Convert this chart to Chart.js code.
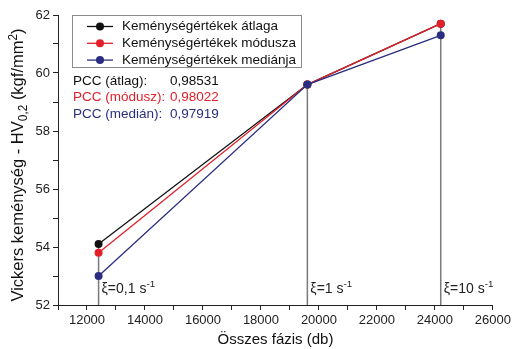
<!DOCTYPE html>
<html>
<head>
<meta charset="utf-8">
<script src="https://cdn.jsdelivr.net/npm/chart.js@4"></script>
<style>
html, body { margin:0; padding:0; background:#fff; }
#wrap { width:514px; height:349px; }
</style>
</head>
<body>
<div id="wrap"><canvas id="hvChart" width="514" height="349"></canvas></div>
<script>
// data
let phases = [12400, 19600, 24200]
let hvMean = [54.1, 59.6, 61.7]
let hvMode = [53.8, 59.6, 61.7]
let hvMedian = [53.0, 59.6, 61.3]
let seriesNames = ['Keménységértékek átlaga', 'Keménységértékek módusza', 'Keménységértékek mediánja']
let pccNames = ['PCC (átlag):', 'PCC (módusz):', 'PCC (medián):']
let pccValues = ['0,98531', '0,98022', '0,97919']
let rateLabels = ['0,1', '1', '10']

let colors = ['#111111', '#e3202a', '#2b2e80']
let font = '"Liberation Sans", Arial, sans-serif'

function toPoints(ys){
    return phases.map((x, i) => ({x: x, y: ys[i]}))
}

// text with sub/superscripts: parts = [[text, shift, scale]]
function richWidth(ctx, parts, size){
    let w = 0
    parts.forEach(p => {
        ctx.font = (size * (p[2] || 1)) + 'px ' + font
        w += ctx.measureText(p[0]).width
    })
    return w
}

function richText(ctx, parts, x, y, size){
    let cx = x
    parts.forEach(p => {
        ctx.font = (size * (p[2] || 1)) + 'px ' + font
        ctx.fillText(p[0], cx, y + (p[1] || 0))
        cx += ctx.measureText(p[0]).width
    })
}

let extras = {
    id: 'extras',
    beforeDatasetsDraw(chart){
        let ctx = chart.ctx
        let xs = chart.scales.x
        let ys = chart.scales.y
        ctx.save()
        // drop lines from the highest point down to the axis
        ctx.strokeStyle = '#7a7a7a'
        ctx.lineWidth = 1.5
        phases.forEach((p, i) => {
            let top = Math.max(hvMean[i], hvMode[i], hvMedian[i])
            let px = xs.getPixelForValue(p)
            ctx.beginPath()
            ctx.moveTo(px, ys.getPixelForValue(top))
            ctx.lineTo(px, ys.bottom)
            ctx.stroke()
        })
        // rate labels
        ctx.fillStyle = '#222'
        ctx.textBaseline = 'alphabetic'
        phases.forEach((p, i) => {
            let px = xs.getPixelForValue(p) + 3
            richText(ctx, [['ξ=' + rateLabels[i] + ' s', 0, 1], ['-1', -6, 0.7]], px, ys.bottom - 12, 14)
        })
        ctx.restore()
    },
    afterDraw(chart){
        let ctx = chart.ctx
        let area = chart.chartArea
        ctx.save()
        // legend box
        ctx.strokeStyle = '#8a8a8a'
        ctx.lineWidth = 1
        ctx.strokeRect(72.5, 15.5, 229, 52)
        ctx.textBaseline = 'middle'
        ctx.font = '13.5px ' + font
        seriesNames.forEach((name, i) => {
            let ly = 26.5 + i * 16.8
            ctx.strokeStyle = colors[i]
            ctx.lineWidth = 1.3
            ctx.beginPath()
            ctx.moveTo(87, ly)
            ctx.lineTo(113, ly)
            ctx.stroke()
            ctx.fillStyle = colors[i]
            ctx.beginPath()
            ctx.arc(100, ly, 4, 0, Math.PI * 2)
            ctx.fill()
            ctx.fillStyle = '#111'
            ctx.fillText(name, 122, ly)
        })
        // correlation block
        pccNames.forEach((name, i) => {
            let ly = 81 + i * 16.5
            ctx.fillStyle = colors[i]
            ctx.fillText(name, 73, ly)
            ctx.fillText(pccValues[i], 170, ly)
        })
        // axis titles
        ctx.fillStyle = '#111'
        ctx.textBaseline = 'alphabetic'
        ctx.font = '15px ' + font
        let xt = 'Összes fázis (db)'
        let xw = ctx.measureText(xt).width
        ctx.fillText(xt, (area.left + area.right) / 2 - xw / 2, 344)
        let yParts = [['Vickers keménység - HV', 0, 1], ['0,2', 4, 0.72], [' (kgf/mm', 0, 1], ['2', -6, 0.72], [')', 0, 1]]
        let yw = richWidth(ctx, yParts, 16.5)
        ctx.translate(23, 165)
        ctx.rotate(-Math.PI / 2)
        richText(ctx, yParts, -yw / 2, 0, 16.5)
        ctx.restore()
    }
}

let hvChart =
new Chart(
    document.getElementById('hvChart'),
    {
        type: 'line',
        data: {
            datasets: [
                {label: seriesNames[0], data: toPoints(hvMean), order: 3},
                {label: seriesNames[1], data: toPoints(hvMode), order: 2},
                {label: seriesNames[2], data: toPoints(hvMedian), order: 1}
            ].map((d, i) => Object.assign(d, {
                borderColor: colors[i],
                backgroundColor: colors[i],
                borderWidth: 1.3,
                pointRadius: 4,
                pointBorderWidth: 0,
                tension: 0
            }))
        },
        options: {
            responsive: false,
            animation: false,
            layout: {padding: {top: 15, right: 17, left: 0, bottom: 0}},
            plugins: {legend: {display: false}, tooltip: {enabled: false}},
            scales: {
                x: {
                    type: 'linear',
                    min: 11000,
                    max: 26000,
                    afterFit: s => { s.height = 44 },
                    border: {color: '#222', width: 1},
                    grid: {drawOnChartArea: false, tickLength: 5, color: '#222'},
                    ticks: {
                        stepSize: 1000,
                        autoSkip: false,
                        maxRotation: 0,
                        padding: 3,
                        color: '#222',
                        font: {family: font, size: 13},
                        callback: v => v % 2000 === 0 ? String(v) : ''
                    }
                },
                y: {
                    min: 52,
                    max: 62,
                    afterFit: s => { s.width = 58 },
                    border: {color: '#222', width: 1},
                    grid: {drawOnChartArea: false, tickLength: 5, color: '#222'},
                    ticks: {
                        stepSize: 1,
                        padding: 3,
                        color: '#222',
                        font: {family: font, size: 13},
                        callback: v => v % 2 === 0 ? String(v) : ''
                    }
                }
            }
        },
        plugins: [extras]
    }
)
</script>
</body>
</html>
